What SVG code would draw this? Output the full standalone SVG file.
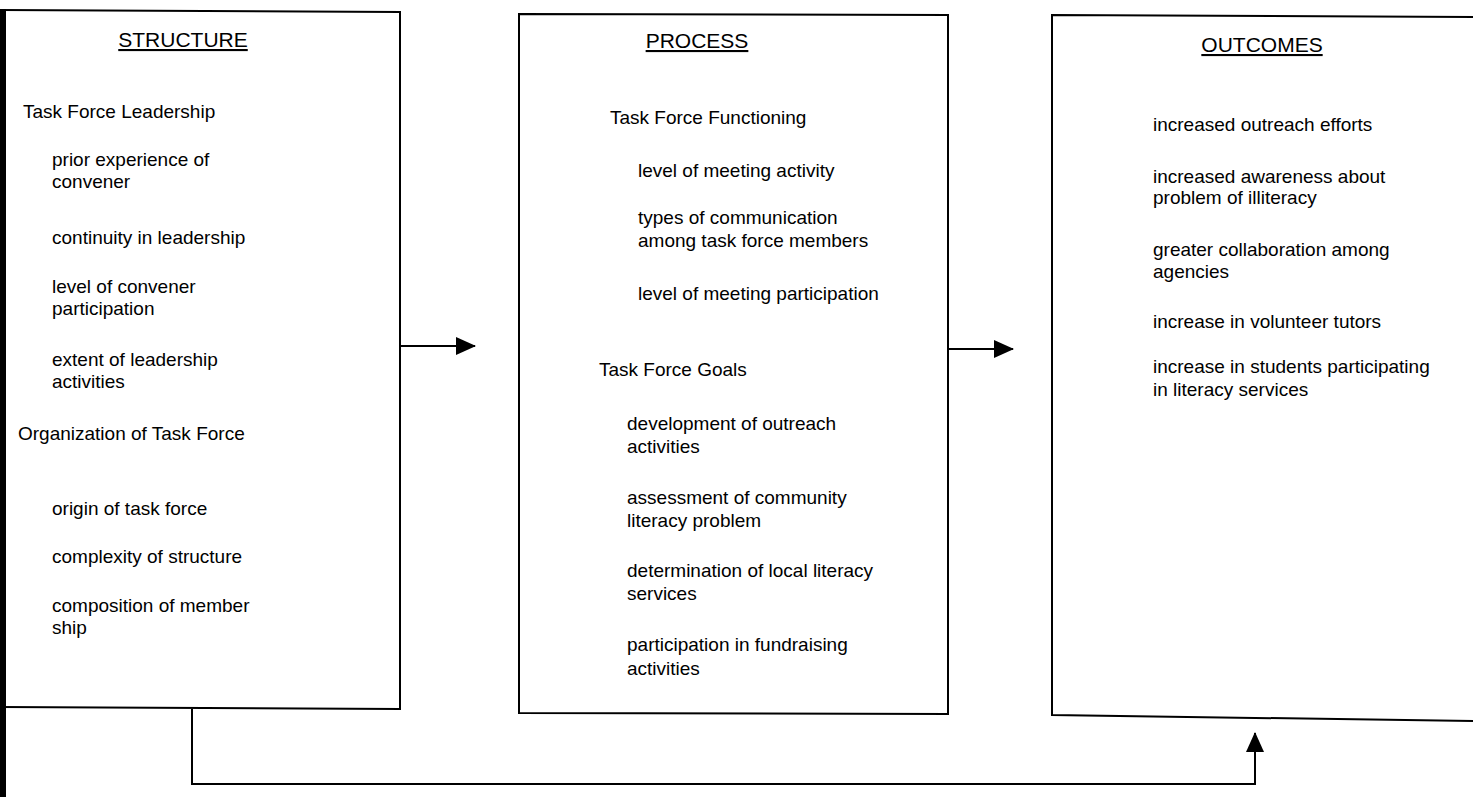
<svg xmlns="http://www.w3.org/2000/svg" width="1473" height="797" viewBox="0 0 1473 797">
<defs>
<style>
.t{font-family:"Liberation Sans",Arial,sans-serif;font-size:19px;fill:#000}
.h{font-family:"Liberation Sans",Arial,sans-serif;font-size:21px;fill:#000;text-anchor:middle;text-decoration:underline}
.box{fill:none;stroke:#000;stroke-width:2}
.con{fill:none;stroke:#000;stroke-width:2}
</style>
<marker id="ah" viewBox="0 0 20 18" refX="19" refY="9" markerWidth="20" markerHeight="18" markerUnits="userSpaceOnUse" orient="auto">
<path d="M0,0 L20,9 L0,18 Z" fill="#000"/>
</marker>
</defs>
<rect width="1473" height="797" fill="#fff"/>
<rect x="0" y="10" width="6" height="787" fill="#000"/>
<g id="structure">
<path class="box" d="M0,10 L400,12 L400,709 L0,707"/>
<text class="h" x="183" y="47">STRUCTURE</text>
<text class="t" x="23" y="118">Task Force Leadership</text>
<text class="t" x="52" y="166">prior experience of</text>
<text class="t" x="52" y="188">convener</text>
<text class="t" x="52" y="244">continuity in leadership</text>
<text class="t" x="52" y="293">level of convener</text>
<text class="t" x="52" y="315">participation</text>
<text class="t" x="52" y="366">extent of leadership</text>
<text class="t" x="52" y="388">activities</text>
<text class="t" x="18" y="440">Organization of Task Force</text>
<text class="t" x="52" y="515">origin of task force</text>
<text class="t" x="52" y="563">complexity of structure</text>
<text class="t" x="52" y="612">composition of member</text>
<text class="t" x="52" y="634">ship</text>
</g>
<g id="process">
<path class="box" d="M519,14 L948,15 L948,714 L519,713 Z"/>
<text class="h" x="697" y="48">PROCESS</text>
<text class="t" x="610" y="124">Task Force Functioning</text>
<text class="t" x="638" y="177">level of meeting activity</text>
<text class="t" x="638" y="224">types of communication</text>
<text class="t" x="638" y="247">among task force members</text>
<text class="t" x="638" y="300">level of meeting participation</text>
<text class="t" x="599" y="376">Task Force Goals</text>
<text class="t" x="627" y="430">development of outreach</text>
<text class="t" x="627" y="453">activities</text>
<text class="t" x="627" y="504">assessment of community</text>
<text class="t" x="627" y="527">literacy problem</text>
<text class="t" x="627" y="577">determination of local literacy</text>
<text class="t" x="627" y="600">services</text>
<text class="t" x="627" y="651">participation in fundraising</text>
<text class="t" x="627" y="675">activities</text>
</g>
<g id="outcomes">
<path class="box" d="M1474,17 L1052,15 L1052,715 L1474,721"/>
<text class="h" x="1262" y="52">OUTCOMES</text>
<text class="t" x="1153" y="131">increased outreach efforts</text>
<text class="t" x="1153" y="183">increased awareness about</text>
<text class="t" x="1153" y="204">problem of illiteracy</text>
<text class="t" x="1153" y="256">greater collaboration among</text>
<text class="t" x="1153" y="278">agencies</text>
<text class="t" x="1153" y="328">increase in volunteer tutors</text>
<text class="t" x="1153" y="373">increase in students participating</text>
<text class="t" x="1153" y="396">in literacy services</text>
</g>
<g id="connectors">
<path class="con" d="M400,346 L475,346" marker-end="url(#ah)"/>
<path class="con" d="M948,349 L1013,349" marker-end="url(#ah)"/>
<path class="con" d="M192,709 L192,784 L1255,784 L1255,733" marker-end="url(#ah)"/>
</g>
</svg>
